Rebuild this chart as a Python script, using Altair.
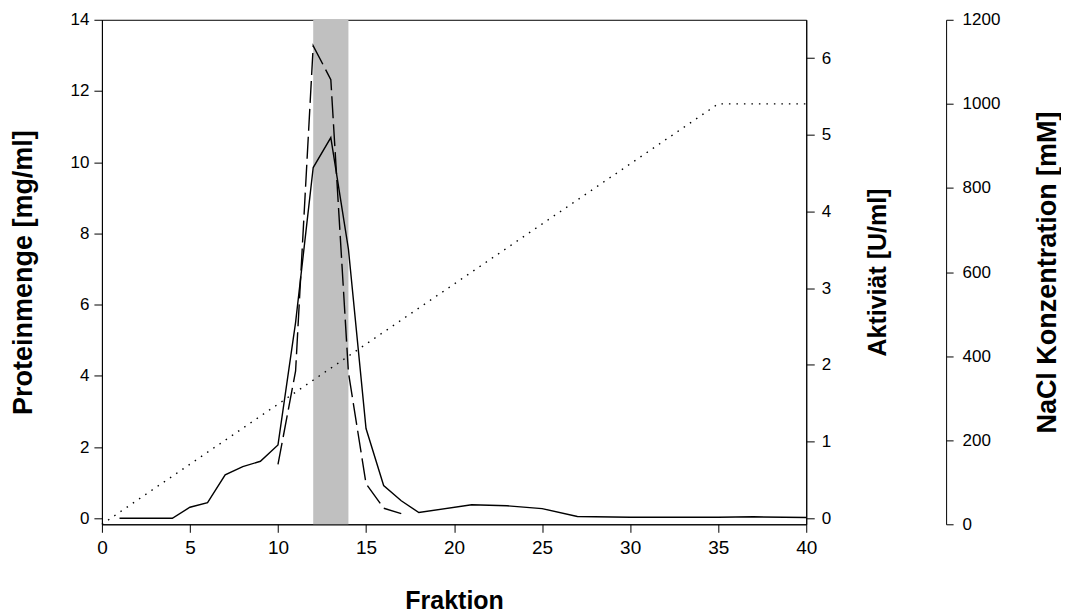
import altair as alt
import pandas as pd

# ---- data ----
protein_fraction = [1, 2, 3, 4, 5, 6, 7, 8, 9, 10, 11, 12, 13, 14, 15, 16, 17, 18, 21, 23, 25, 27, 30, 35, 37, 40]
protein_mg_ml = [0, 0, 0, 0, 0.31, 0.44, 1.22, 1.45, 1.6, 2.06, 5.5, 9.85, 10.69, 7.56, 2.52, 0.92, 0.49, 0.16,
                 0.38, 0.35, 0.27, 0.05, 0.03, 0.03, 0.04, 0.02]

activity_fraction = [10, 11, 12, 13, 14, 15, 16, 17]
activity_u_ml = [0.7, 1.92, 6.16, 5.72, 1.9, 0.45, 0.13, 0.06]

nacl_fraction = [0, 35, 40]
nacl_mM = [0, 1000, 1000]

pool_start = [12]
pool_end = [14]

x_ticks = [0, 5, 10, 15, 20, 25, 30, 35, 40]
protein_ticks = [0, 2, 4, 6, 8, 10, 12, 14]
activity_ticks = [0, 1, 2, 3, 4, 5, 6]
nacl_ticks = [0, 200, 400, 600, 800, 1000, 1200]

# ---- tables ----
df_protein = pd.DataFrame({"fraction": protein_fraction, "protein": protein_mg_ml})
df_activity = pd.DataFrame({"fraction": activity_fraction, "activity": activity_u_ml})
df_nacl = pd.DataFrame({"fraction": nacl_fraction, "nacl": nacl_mM})
df_pool = pd.DataFrame({"start": pool_start, "end": pool_end})

FONT = "Liberation Sans, Arial, sans-serif"

x_scale = alt.Scale(domain=[0, 40], nice=False, zero=False)
x_axis = alt.Axis(values=x_ticks, title="Fraktion", grid=False, tickSize=8, labelPadding=6,
                  labelFont=FONT, labelFontSize=19, titleFont=FONT, titleFontSize=25,
                  titleFontWeight="bold", titlePadding=31, domainColor="black", tickColor="black",
                  labelColor="black", titleColor="black", labelFlush=False)


def xenc(field):
    return alt.X(f"{field}:Q", scale=x_scale, axis=x_axis)


band = alt.Chart(df_pool).mark_rect(color="#c0c0c0", opacity=1).encode(
    x=xenc("start"), x2="end:Q"
)

protein = alt.Chart(df_protein).mark_line(color="black", strokeWidth=1.4).encode(
    x=xenc("fraction"),
    y=alt.Y("protein:Q", scale=alt.Scale(domain=[-0.17, 14], nice=False, zero=False),
            axis=alt.Axis(orient="left", values=protein_ticks, title="Proteinmenge [mg/ml]", grid=False,
                          tickSize=8, labelPadding=5, labelFont=FONT, labelFontSize=17,
                          titleFont=FONT, titleFontSize=27, titleFontWeight="bold", titlePadding=32.5,
                          domainColor="black", tickColor="black", labelColor="black",
                          titleColor="black", labelFlush=False)),
)

activity = alt.Chart(df_activity).mark_line(color="black", strokeWidth=1.4, strokeDash=[22, 6]).encode(
    x=xenc("fraction"),
    y=alt.Y("activity:Q", scale=alt.Scale(domain=[-0.08, 6.5], nice=False, zero=False),
            axis=alt.Axis(orient="right", values=activity_ticks, title="Aktiviät [U/ml]", grid=False,
                          tickSize=8, labelPadding=7, labelFont=FONT, labelFontSize=17,
                          titleFont=FONT, titleFontSize=25, titleFontWeight="bold", titlePadding=35,
                          titleAngle=270, titleBaseline="top",
                          domainColor="black", tickColor="black", labelColor="black",
                          titleColor="black", labelFlush=False)),
)

nacl = alt.Chart(df_nacl).mark_line(color="black", strokeWidth=1.4, strokeDash=[1.5, 6]).encode(
    x=xenc("fraction"),
    y=alt.Y("nacl:Q", scale=alt.Scale(domain=[0, 1200], nice=False, zero=False),
            axis=alt.Axis(orient="right", offset=140, values=nacl_ticks, format="d",
                          title="NaCl Konzentration [mM]",
                          grid=False, tickSize=7, labelPadding=9, labelFont=FONT, labelFontSize=17,
                          titleFont=FONT, titleFontSize=27, titleFontWeight="bold", titlePadding=34.5,
                          titleAngle=270, titleBaseline="top",
                          domainColor="black", tickColor="black", labelColor="black",
                          titleColor="black", labelFlush=False)),
)

chart = (
    alt.layer(band, protein, activity, nacl)
    .resolve_scale(y="independent")
    .properties(width=705, height=505, padding={"left": 1, "top": 2.5, "right": 0, "bottom": 0},
                background="white")
    .configure_view(stroke="black", strokeWidth=1)
)

chart.save("out.html", embed_options={"renderer": "svg", "actions": False})
